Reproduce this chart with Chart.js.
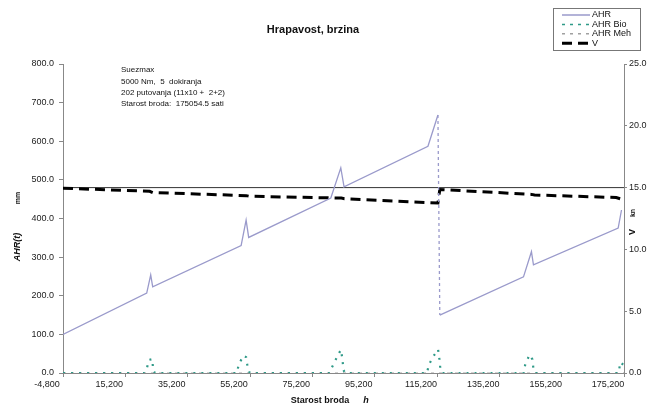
<!DOCTYPE html>
<html>
<head>
<meta charset="utf-8">
<script src="https://cdn.jsdelivr.net/npm/chart.js@4/dist/chart.umd.min.js"></script>
<style>
  html, body { margin: 0; padding: 0; background: #fff; }
  #wrap { position: relative; width: 650px; height: 406px; }
</style>
</head>
<body>
<div id="wrap"><canvas id="myChart" width="650" height="406"></canvas></div>
<script>
// Hours of ship age (x) and measured values
const ahrHours = [-4800, 22060, 23340, 23980, 52350, 53950, 54780, 81130, 84330, 85380, 112300, 115500, 116100, 142950, 145500, 146150, 173330, 174400];
const ahrValues = [100, 207, 254, 223, 330, 396, 351, 453, 531, 482, 587, 668, 150, 249, 314, 280, 375, 422];

const bioHours = [-4800, 21400, 21970, 22800, 23890, 24080, 24700,
    51000, 51580, 53080, 53950, 54460, 55100,
    80800, 81320, 82920, 84330, 84840, 85160, 85700,
    112000, 112570, 113940, 115540, 115990, 116310, 116900,
    143000, 143490, 144860, 145820, 146150, 146700,
    173500, 174000, 175200];
const bioValues = [0, 0, 8, 34, 36, 8, 0,
    0, 22, 45, 41, 14, 0,
    0, 12, 38, 60, 38, 8, 0,
    0, 21, 42, 61, 35, 8, 0,
    0, 21, 47, 35, 10, 0,
    0, 28, 20];

const mehHours = [-4800, 175200];
const mehValues = [0, 0];

const vHours = [-4800, 23000, 24000, 54000, 55000, 84500, 85500, 115500, 116100, 145500, 146500, 172700, 175200];
const vValues = [14.95, 14.7, 14.6, 14.35, 14.3, 14.15, 14.1, 13.75, 14.85, 14.45, 14.4, 14.2, 14.0];

// reference speed line
const refHours = [-4800, 175200];
const refSpeed = [15, 15];

const seriesLabels = ['AHR', 'AHR Bio', 'AHR Meh', 'V'];
const noteLines = ['Suezmax', '5000 Nm,  5  dokiranja', '202 putovanja (11x10 +  2+2)', 'Starost broda:  175054.5 sati'];

function pts(xs, ys) {
    return xs.map(function (x, i) { return { x: x, y: ys[i] }; });
}

const FONT = "'Liberation Sans', Arial, sans-serif";

// Title, note, axis titles and legend box
const decorPlugin = {
    id: 'decor',
    afterDraw: function (chart) {
        var c = chart.ctx;
        c.save();
        c.fillStyle = '#111';
        c.textBaseline = 'middle';

        c.font = 'bold 11px ' + FONT;
        c.textAlign = 'center';
        c.fillText('Hrapavost, brzina', 313, 30);

        c.font = '8px ' + FONT;
        c.textAlign = 'left';
        noteLines.forEach(function (t, i) {
            c.fillText(t, 121, 70 + i * 11.4);
        });

        // x axis title
        c.font = 'bold 9px ' + FONT;
        c.textAlign = 'center';
        c.fillText('Starost broda', 320, 401);
        c.font = 'bold italic 9px ' + FONT;
        c.fillText('h', 366, 401);

        // left axis title
        c.save();
        c.translate(18, 247);
        c.rotate(-Math.PI / 2);
        c.font = 'bold italic 9px ' + FONT;
        c.fillText('AHR(t)', 0, 0);
        c.restore();
        c.save();
        c.translate(18, 198);
        c.rotate(-Math.PI / 2);
        c.font = 'bold 7px ' + FONT;
        c.fillText('mm', 0, 0);
        c.restore();

        // right axis title
        c.save();
        c.translate(633, 232);
        c.rotate(-Math.PI / 2);
        c.font = 'bold 9px ' + FONT;
        c.fillText('V', 0, 0);
        c.restore();
        c.save();
        c.translate(633, 213);
        c.rotate(-Math.PI / 2);
        c.font = 'bold 7px ' + FONT;
        c.fillText('kn', 0, 0);
        c.restore();

        // legend
        c.strokeStyle = '#777';
        c.lineWidth = 1;
        c.strokeRect(553.5, 8.5, 87, 42);
        var ds = chart.data.datasets;
        c.font = '9px ' + FONT;
        c.textAlign = 'left';
        for (var i = 0; i < 4; i++) {
            var y = 15 + i * 9.4;
            c.beginPath();
            c.strokeStyle = ds[i].borderColor;
            c.lineWidth = i === 3 ? 3 : 1.5;
            c.setLineDash(i === 0 ? [] : (i === 3 ? [10, 6] : [3, 5]));
            c.moveTo(562, y);
            c.lineTo(590, y);
            c.stroke();
            c.setLineDash([]);
            c.fillStyle = '#111';
            c.fillText(seriesLabels[i], 592, y);
        }
        c.restore();
    }
};

var ctx = document.getElementById('myChart').getContext('2d');
new Chart(ctx, {
    type: 'line',
    data: {
        datasets: [
            {
                label: seriesLabels[0],
                data: pts(ahrHours, ahrValues),
                borderColor: '#9a9acb',
                borderWidth: 1.3,
                yAxisID: 'y',
                segment: {
                    // the big drop after the dry dock is drawn dashed
                    borderDash: function (s) { return s.p1.parsed.y < s.p0.parsed.y - 200 ? [3, 3] : undefined; }
                }
            },
            {
                label: seriesLabels[1],
                data: pts(bioHours, bioValues),
                borderColor: '#2f9a88',
                borderWidth: 2.2,
                borderDash: [2, 6],
                yAxisID: 'y'
            },
            {
                label: seriesLabels[2],
                data: pts(mehHours, mehValues),
                borderColor: '#a0a0a0',
                borderWidth: 1,
                borderDash: [3, 5],
                yAxisID: 'y'
            },
            {
                label: seriesLabels[3],
                data: pts(vHours, vValues),
                borderColor: '#000',
                borderWidth: 3,
                borderDash: [10, 6],
                yAxisID: 'y2'
            },
            {
                label: 'ref',
                data: pts(refHours, refSpeed),
                borderColor: '#333',
                borderWidth: 1,
                yAxisID: 'y2'
            }
        ]
    },
    options: {
        responsive: false,
        animation: false,
        elements: { point: { radius: 0 }, line: { tension: 0 } },
        layout: { padding: { top: 64, left: 0, right: 0, bottom: 0 } },
        plugins: { legend: { display: false }, tooltip: { enabled: false } },
        scales: {
            x: {
                type: 'linear',
                min: -4800,
                max: 175200,
                ticks: {
                    stepSize: 20000,
                    maxRotation: 0,
                    labelOffset: -16,
                    padding: 2,
                    font: { family: FONT, size: 9 },
                    color: '#222',
                    callback: function (v) { return v.toLocaleString('en-US'); }
                },
                grid: { drawOnChartArea: false, tickLength: 4, color: '#888' },
                border: { color: '#888' },
                afterFit: function (s) { s.height = 33; }
            },
            y: {
                position: 'left',
                min: 0,
                max: 800,
                ticks: {
                    stepSize: 100,
                    padding: 5,
                    font: { family: FONT, size: 9 },
                    color: '#222',
                    callback: function (v) { return v.toFixed(1); }
                },
                grid: { drawOnChartArea: false, tickLength: 4, color: '#888' },
                border: { color: '#888' },
                afterFit: function (s) { s.width = 63; }
            },
            y2: {
                position: 'right',
                min: 0,
                max: 25,
                ticks: {
                    stepSize: 5,
                    padding: 2,
                    font: { family: FONT, size: 9 },
                    color: '#222',
                    callback: function (v) { return v.toFixed(1); }
                },
                grid: { drawOnChartArea: false, tickLength: 3, color: '#888' },
                border: { color: '#888' },
                afterFit: function (s) { s.width = 26; }
            }
        }
    },
    plugins: [decorPlugin]
});
</script>
</body>
</html>
